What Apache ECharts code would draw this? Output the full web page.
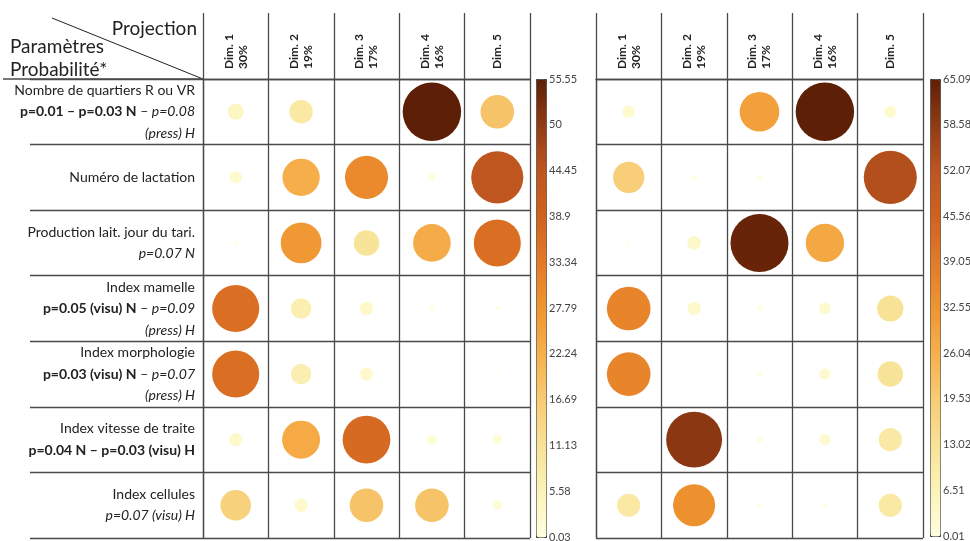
<!DOCTYPE html>
<html><head><meta charset="utf-8">
<script src="https://cdn.jsdelivr.net/npm/echarts@6/dist/echarts.min.js"></script>
<style>html,body{margin:0;padding:0;background:#fff}#c{width:970px;height:541px}</style>
</head><body><div id="c"></div>
<script>
const dimLabels = ['Dim. 1\n30%', 'Dim. 2\n19%', 'Dim. 3\n17%', 'Dim. 4\n16%', 'Dim. 5'];
const rowNames = ['Nombre de quartiers R ou VR', 'Numéro de lactation', 'Production lait. jour du tari.', 'Index mamelle', 'Index morphologie', 'Index vitesse de traite', 'Index cellules'];
const rowTests = [
  '{b|p=0.01 – p=0.03 N} – {i|p=0.08}\n{i|(press) H}',
  '',
  '{i|p=0.07 N}',
  '{b|p=0.05 (visu) N} – {i|p=0.09}\n{i|(press) H}',
  '{b|p=0.03 (visu) N} – {i|p=0.07}\n{i|(press) H}',
  '{b|p=0.04 N – p=0.03 (visu) H}',
  '{i|p=0.07 (visu) H}'
];
// values: rows x dims
const valuesLeft = [
  [4.2, 9.0, 0, 55.55, 18.3],
  [2.5, 22.6, 30.1, 0.8, 44.1],
  [0.3, 27.0, 10.6, 23.0, 36.0],
  [36.0, 6.8, 2.9, 0.3, 0.3],
  [36.0, 6.8, 2.7, 0.1, 0.1],
  [2.9, 23.4, 37.0, 1.6, 1.4],
  [15.2, 2.9, 18.3, 18.3, 1.4]
];
const valuesRight = [
  [2.9, 0.2, 29.9, 65.09, 2.8],
  [18.6, 0.5, 0.5, 0, 53.6],
  [0.2, 3.6, 64.0, 28.0, 0.1],
  [36.3, 3.4, 0.5, 2.6, 13.1],
  [36.3, 0, 0.5, 2.5, 12.4],
  [0.1, 59.5, 0.6, 2.5, 10.2],
  [10.2, 33.6, 0.3, 0.3, 10.2]
];
const ticksLeft = ['0.03', '5.58', '11.13', '16.69', '22.24', '27.79', '33.34', '38.9', '44.45', '50', '55.55'];
const ticksRight = ['0.01', '6.51', '13.02', '19.53', '26.04', '32.55', '39.05', '45.56', '52.07', '58.58', '65.09'];
const rangeLeft = [0.03, 55.55];
const rangeRight = [0.01, 65.09];

const palette = ['#FFFFE0', '#FBF3B8', '#F8E296', '#F8CB74', '#F6B04C', '#EF9530', '#E37A28', '#D0621F', '#BE5520', '#913B14', '#5E1F07'];
const FONT = 'Lato';
const LINE = '#4a4a4a';
const MAXD = 58.5;

function toData(vals) {
  const out = [];
  vals.forEach((row, r) => row.forEach((v, c) => out.push([c, r, v])));
  return out;
}

function mainAxes(gi, withLabels) {
  const x = {
    gridIndex: gi, type: 'category', data: dimLabels, position: 'top', boundaryGap: true,
    axisLine: {show: true, lineStyle: {color: LINE, width: 1.3}},
    axisTick: {show: true, length: 66, lineStyle: {color: LINE, width: 1.3}},
    axisLabel: {interval: 0, rotate: -90, margin: 10, fontFamily: FONT, fontWeight: 'bold', fontSize: 12, lineHeight: 14, color: '#222'},
    splitLine: {show: true, lineStyle: {color: LINE, width: 1.3}}
  };
  const y = {
    gridIndex: gi, type: 'category', data: rowNames, inverse: true, boundaryGap: true,
    axisLine: {show: true, lineStyle: {color: LINE, width: 1.3}},
    axisTick: {show: withLabels, length: 173, lineStyle: {color: LINE, width: 1.3}},
    axisLabel: {
      show: withLabels, interval: 0, margin: 8, fontFamily: FONT, fontSize: 14, lineHeight: 21.5, color: '#222', align: 'right',
      formatter: (v, i) => rowTests[i] ? v + '\n' + rowTests[i] : v,
      rich: {
        b: {fontFamily: FONT, fontSize: 14, lineHeight: 21.5, fontWeight: 'bold', color: '#222'},
        i: {fontFamily: FONT, fontSize: 14, lineHeight: 21.5, fontStyle: 'italic', color: '#222'}
      }
    },
    splitLine: {show: true, lineStyle: {color: LINE, width: 1.3}}
  };
  return [x, y];
}
function barAxes(gi, ticks) {
  return [
    {gridIndex: gi, type: 'value', show: false},
    {gridIndex: gi, type: 'category', data: ticks, boundaryGap: false, position: 'right',
      axisLine: {show: false}, axisTick: {show: false}, splitLine: {show: false},
      axisLabel: {interval: 0, margin: 3, fontFamily: FONT, fontSize: 11, color: '#444'}}
  ];
}
const [xa0, ya0] = mainAxes(0, true);
const [xa1, ya1] = mainAxes(1, false);
const [xa2, ya2] = barAxes(2, ticksLeft);
const [xa3, ya3] = barAxes(3, ticksRight);

function scatter(gi, vals, range) {
  return {
    type: 'scatter', xAxisIndex: gi, yAxisIndex: gi, data: toData(vals),
    symbol: 'circle',
    symbolSize: d => MAXD * Math.sqrt(Math.max(d[2], 0) / range[1]),
    itemStyle: {opacity: 1},
    emphasis: {disabled: true},
    silent: true
  };
}

const option = {
  animation: false,
  backgroundColor: '#fff',
  grid: [
    {left: 203, top: 79, width: 327, height: 459, outerBoundsMode: 'none'},
    {left: 596, top: 79, width: 327, height: 459, outerBoundsMode: 'none'},
    {left: 536, top: 79, width: 10, height: 458, outerBoundsMode: 'none'},
    {left: 930, top: 79, width: 10, height: 457, outerBoundsMode: 'none'}
  ],
  xAxis: [xa0, xa1, xa2, xa3],
  yAxis: [ya0, ya1, ya2, ya3],
  visualMap: [
    {type: 'continuous', seriesIndex: 0, dimension: 2, min: rangeLeft[0], max: rangeLeft[1],
      left: 536, top: 79, itemWidth: 10, itemHeight: 458, padding: 0, text: null, showLabel: false,
      calculable: false, hoverLink: false, borderColor: '#333', borderWidth: 1,
      inRange: {color: palette}, outOfRange: {color: palette[0]}},
    {type: 'continuous', seriesIndex: 1, dimension: 2, min: rangeRight[0], max: rangeRight[1],
      left: 930, top: 79, itemWidth: 10, itemHeight: 457, padding: 0, text: null, showLabel: false,
      calculable: false, hoverLink: false, borderColor: '#333', borderWidth: 1,
      inRange: {color: palette}, outOfRange: {color: palette[0]}}
  ],
  series: [scatter(0, valuesLeft, rangeLeft), scatter(1, valuesRight, rangeRight)],
  graphic: [
    {type: 'line', shape: {x1: 52, y1: 18, x2: 203, y2: 79}, style: {stroke: '#222', lineWidth: 1}},
    {type: 'line', shape: {x1: 3, y1: 79, x2: 203, y2: 79}, style: {stroke: LINE, lineWidth: 1.3}},
    {type: 'text', right: 773, top: 19, style: {text: 'Projection', font: '19px Lato', fill: '#222'}},
    {type: 'text', left: 10, top: 37, style: {text: 'Paramètres', font: '19px Lato', fill: '#222'}},
    {type: 'text', left: 10, top: 60, style: {text: 'Probabilité*', font: '19px Lato', fill: '#222'}}
  ]
};
echarts.init(document.getElementById('c'), null, {renderer: 'canvas'}).setOption(option);
</script>
</body></html>
